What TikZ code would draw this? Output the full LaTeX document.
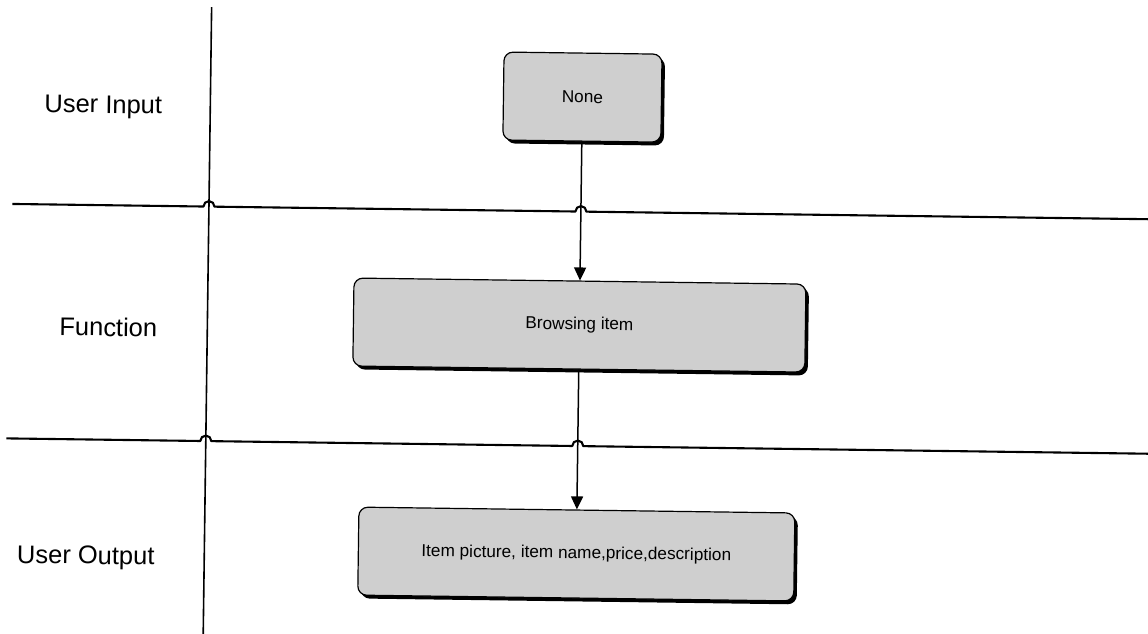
\documentclass[tikz,border=0pt]{standalone}
\usepackage{fontspec}
\setmainfont{Liberation Sans}
\usetikzlibrary{arrows.meta,shadows}
\begin{document}
\begin{tikzpicture}[x=1pt,y=-1pt,
  lane/.style={line width=2.1pt, line join=round},
  divider/.style={line width=1.6pt},
  lanelabel/.style={anchor=base, inner sep=0pt, font=\fontsize{25.5}{30}\selectfont},
  stepbox/.style={draw=black, line width=1.2pt, fill=black!19, rounded corners=9pt,
    minimum height=88pt, inner sep=0pt, font=\fontsize{17.2}{20}\selectfont,
    drop shadow={opacity=1, fill=black, shadow xshift=3pt, shadow yshift=-3.4pt}},
  flow/.style={line width=1.5pt, -{Triangle[width=12pt,length=13pt]}}
]
\path[use as bounding box] (0,0) rectangle (1148,634);
\clip (0,0) rectangle (1148,634);
\begin{scope}[rotate around={-0.77:(574,317)}, transform shape]
  % swimlane dividers, hopping over the vertical lines
  \coordinate (vtop) at (207.5,12);
  \coordinate (vbot) at (207.5,680);
  \draw[divider] (vtop) -- (vbot);
  \draw[lane] (11,211.5) -- (202,211.5) arc[start angle=180, end angle=0, radius=5.5pt]
     -- (574,211.5) arc[start angle=180, end angle=0, radius=5.5pt] -- (1180,211.5);
  \draw[lane] (8,446) -- (202,446) arc[start angle=180, end angle=0, radius=5.5pt]
     -- (574,446) arc[start angle=180, end angle=0, radius=5.5pt] -- (1180,446);

  % lane titles
  \node[lanelabel] (lin)  at (100.5,119.5) {User Input};
  \node[lanelabel] (lfn)  at (108.5,342.5) {Function};
  \node[lanelabel] (lout) at (89,570.5) {User Output};

  % process steps
  \node[stepbox, minimum width=158pt] (none)   at (579.5,97)  {None};
  \node[stepbox, minimum width=452pt] (browse) at (579.5,325) {Browsing item};
  \node[stepbox, minimum width=436pt] (result) at (579.5,554) {Item picture, item name,price,description};

  \draw[flow] (none.south) -- (browse.north);
  \draw[flow] (browse.south) -- (result.north);
\end{scope}
\end{tikzpicture}
\end{document}
